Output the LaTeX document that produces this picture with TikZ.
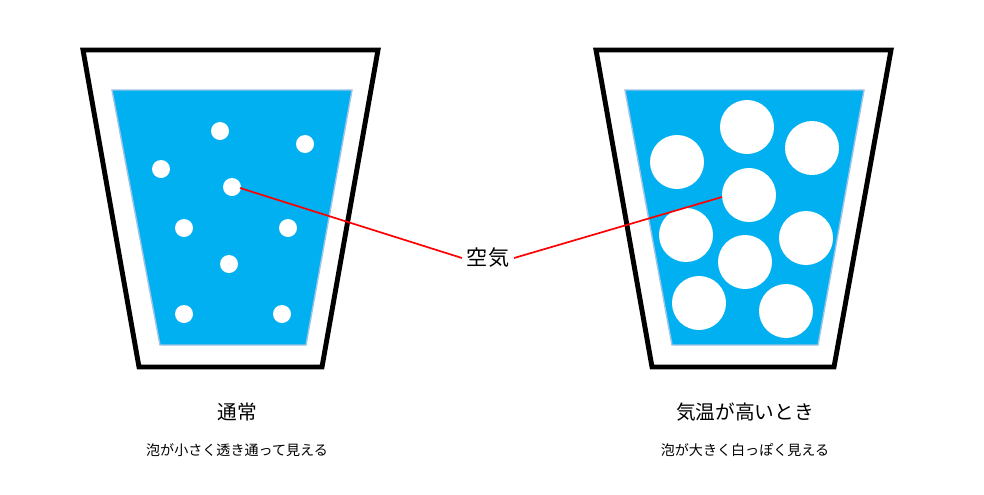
\documentclass[tikz,border=0pt]{standalone}
\usepackage{fontspec}
\setmainfont{Noto Sans CJK JP}
\definecolor{water}{HTML}{00B0F0}
\definecolor{waterline}{HTML}{9DC3E6}
\tikzset{
  glass/.style={draw=black,line width=3.5pt,fill=white,line join=miter},
  water/.style={draw=waterline,line width=1pt,fill=water},
  bubble/.style={circle,fill=white,inner sep=0pt,minimum size=#1},
  pointer/.style={draw=red,line width=1.2pt}
}
\begin{document}
\begin{tikzpicture}[x=0.025cm,y=-0.025cm]
\useasboundingbox (0,0) rectangle (984,494);
% left glass
\draw [glass] (83,50) -- (378,50) -- (322,367) -- (139,367) -- cycle;
\draw [water] (112,90) -- (352,90) -- (306,345) -- (160,345) -- cycle;
\foreach \n/\x/\y in {a/220/131,b/305/144,c/161/169,d/232/187,e/184/228,f/288/228,g/229/264,h/184/314,i/282/314}
  \node [bubble=18*0.025cm] (s\n) at (\x,\y) {};
% right glass
\draw [glass] (596,50) -- (891,50) -- (834,367) -- (652,367) -- cycle;
\draw [water] (625,90) -- (864,90) -- (818,345) -- (672,345) -- cycle;
\foreach \n/\x/\y in {a/747/127,b/812/148,c/677/162,d/749/195,e/686/235,f/806/238,g/745/262,h/699/303,i/786/311}
  \node [bubble=54*0.025cm] (l\n) at (\x,\y) {};
% labels
\node (air) at (488,258) {\fontsize{15}{18}\selectfont 空気};
\coordinate (sd) at (240,188);
\coordinate (ld) at (722,197);
\draw [pointer] (sd) -- (air.west);
\draw [pointer] (air.east) -- (ld);
\node (normal) at (237,412) {\fontsize{14}{17}\selectfont 通常};
\node (normaltxt) at (237,450) {\fontsize{10}{12}\selectfont 泡が小さく透き通って見える};
\node (hot) at (745,412) {\fontsize{14}{17}\selectfont 気温が高いとき};
\node (hottxt) at (745,450) {\fontsize{10}{12}\selectfont 泡が大きく白っぽく見える};
\end{tikzpicture}
\end{document}
